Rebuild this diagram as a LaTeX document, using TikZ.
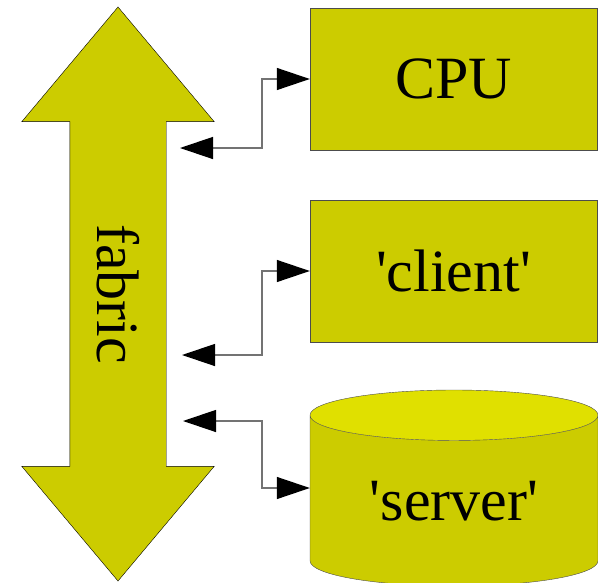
\documentclass[tikz,border=0pt]{standalone}
\usepackage{fontspec}
\setmainfont{Liberation Serif}
\usetikzlibrary{arrows.meta,shapes.arrows,shapes.geometric}
\definecolor{olive}{RGB}{204,204,0}
\definecolor{olivetop}{RGB}{224,224,0}

\begin{document}
\begin{tikzpicture}[x=1pt,y=-1pt,
  font=\fontsize{60}{72}\selectfont,
  unit/.style={rectangle,draw=black!70,fill=olive,minimum width=287pt,minimum height=142pt,inner sep=0pt},
  link/.style={draw=black!55,line width=1.3pt,{Triangle[length=33pt,width=22pt,black]}-{Triangle[length=33pt,width=22pt,black]}}]

\useasboundingbox (0,0) rectangle (598,582);

\node(fabric) at (118,294)[double arrow,draw=black,fill=olive,rotate=-90,
  minimum width=192pt,minimum height=574pt,double arrow head extend=48pt,
  double arrow tip angle=80,inner xsep=0pt,inner ysep=27.5pt,text height=41pt,text depth=0pt] {fabric};
\node(cpu) at (453.5,79)[unit] {CPU};
\node(client) at (453.5,271)[unit] {\textquotesingle client\textquotesingle};
\node(server) at (454,488)[cylinder,shape border rotate=90,draw=black!70,anchor=shape center,
  cylinder uses custom fill,cylinder body fill=olive,cylinder end fill=olivetop,
  minimum width=288pt,minimum height=196pt,aspect=0.30,inner sep=0pt] {\textquotesingle server\textquotesingle};

\coordinate(p1) at (180,148);
\coordinate(p2) at (182,355);
\coordinate(p3) at (183,421);

\draw[link] (p1) -- ++(82,0) |- (cpu.west);
\draw[link] (p2) -- ++(80,0) |- (client.west);
\draw[link] (p3) -- ++(79,0) |- (server.shape center -| server.west);

\end{tikzpicture}
\end{document}
